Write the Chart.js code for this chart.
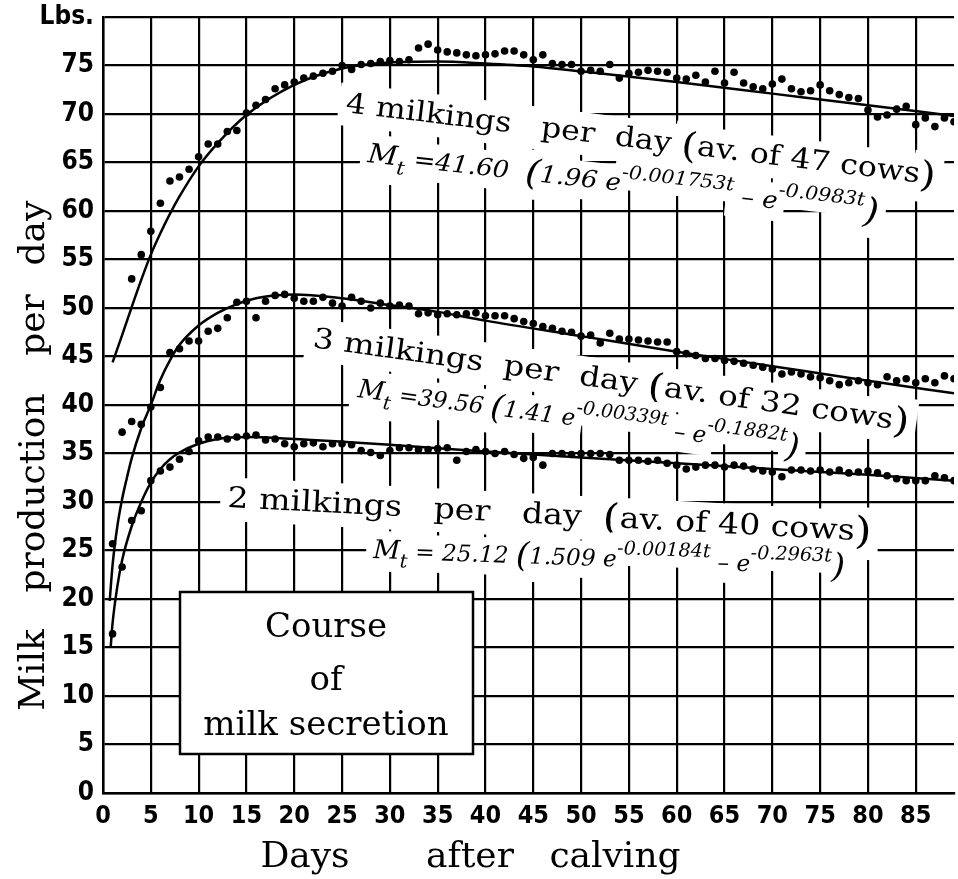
<!DOCTYPE html>
<html>
<head>
<meta charset="utf-8">
<script src="https://cdn.jsdelivr.net/npm/chart.js@4.4.0/dist/chart.umd.min.js"></script>
<style>
  html, body { margin: 0; padding: 0; background: #fff; }
  canvas { display: block; }
</style>
</head>
<body>
<canvas id="chart" width="958" height="879"></canvas>
<script>
// days after calving (one dot per day)
const days = Array.from({ length: 89 }, (_, i) => i + 1);

// daily averages, lbs per day
const milk4 = [null, null, 53.0, 55.5, 57.9, 60.8, 63.1, 63.5, 64.3, 65.6,
  66.9, 66.9, 68.2, 68.3, 70.1, 70.9, 71.5, 72.6, 73.0, 73.3,
  73.7, 73.9, 74.2, 74.4, 75.0, 74.6, 75.1, 75.2, 75.4, 75.5,
  75.4, 75.6, 76.8, 77.2, 76.6, 76.4, 76.3, 76.1, 76.0, 76.1,
  76.2, 76.5, 76.5, 76.1, 75.6, 76.1, 75.2, 75.1, 75.1, 74.4,
  74.5, 74.4, 75.1, 73.7, 74.2, 74.3, 74.5, 74.4, 74.3, 73.7,
  73.6, 74.0, 73.3, 74.4, 73.2, 74.3, 73.2, 72.8, 72.6, 73.1,
  73.6, 72.6, 72.3, 72.4, 73.0, 72.4, 72.0, 71.7, 71.6, 70.4,
  69.7, 69.9, 70.5, 70.8, 68.9, 69.6, 68.7, 69.6, 69.2];

const milk3 = [25.7, 37.2, 38.3, 38.0, 39.8, 41.8, 45.4, 45.8, 46.6, 46.6,
  47.6, 47.9, 49.0, 50.6, 50.7, 49.0, 50.7, 51.3, 51.4, 51.0,
  50.7, 50.7, 51.1, 50.5, 50.2, 51.1, 50.7, 50.0, 50.5, 50.2,
  50.3, 50.2, 49.4, 49.5, 49.3, 49.4, 49.3, 49.4, 49.5, 49.2,
  49.2, 49.2, 48.9, 48.6, 48.4, 48.1, 47.9, 47.6, 47.5, 47.1,
  47.2, 46.4, 47.4, 46.8, 46.8, 46.7, 46.6, 46.5, 46.5, 45.5,
  45.3, 45.1, 44.8, 44.8, 44.6, 44.5, 44.3, 44.1, 43.9, 43.7,
  43.2, 43.4, 43.2, 42.9, 42.8, 42.5, 42.1, 42.3, 42.5, 42.3,
  42.1, 42.9, 42.5, 42.7, 42.3, 42.7, 42.3, 43.0, 42.7];

const milk2 = [16.4, 23.3, 28.1, 29.1, 32.2, 33.2, 33.6, 34.4, 35.2, 36.3,
  36.7, 36.7, 36.5, 36.7, 36.8, 36.9, 36.4, 36.5, 36.0, 35.7,
  36.0, 36.1, 35.7, 36.0, 36.0, 35.9, 35.3, 35.1, 34.8, 35.3,
  35.6, 35.6, 35.4, 35.4, 35.5, 35.6, 34.3, 35.2, 35.4, 35.2,
  35.0, 35.2, 34.9, 34.5, 34.6, 33.8, 35.0, 35.0, 34.9, 35.0,
  35.0, 35.0, 34.9, 34.3, 34.3, 34.3, 34.2, 34.3, 34.0, 33.8,
  33.4, 33.6, 33.8, 33.8, 33.6, 33.8, 33.7, 33.4, 33.2, 33.1,
  32.6, 33.3, 33.3, 33.2, 33.3, 33.1, 33.3, 33.0, 33.1, 33.2,
  33.0, 32.7, 32.4, 32.2, 32.2, 32.2, 32.7, 32.5, 32.2];

// fitted curves
const fitDays4 = [1, 2, 3, 4, 5, 6, 7, 8, 10, 12, 15, 20, 25, 30, 35, 40, 45, 50, 60, 70, 80, 89];
const fit4 = [44.4, 47.2, 50.1, 52.9, 55.5, 57.7, 59.7, 61.5, 64.6, 67.0, 69.9, 73.0, 74.7, 75.3, 75.4, 75.2, 74.9, 74.4, 73.3, 72.1, 70.9, 69.8];

const fitDays3 = [0.7, 1, 1.5, 2, 2.5, 3, 4, 5, 6, 7, 8, 10, 12, 14, 16, 18, 20, 25, 30, 35, 40, 50, 60, 70, 80, 89];
const fit3 = [19.8, 23.5, 27.5, 30.3, 32.5, 34.5, 37.6, 40.0, 42.6, 44.6, 46.2, 48.2, 49.5, 50.4, 51.0, 51.3, 51.4, 51.0, 50.3, 49.6, 48.7, 47.1, 45.5, 44.0, 42.5, 41.2];

const fitDays2 = [0.8, 1, 1.5, 2, 3, 4, 5, 6, 7, 8, 10, 12, 15, 20, 25, 30, 40, 50, 60, 70, 80, 89];
const fit2 = [15.0, 17.5, 21.3, 24.0, 27.5, 30.0, 32.0, 33.4, 34.4, 35.1, 36.0, 36.5, 36.7, 36.5, 36.2, 35.9, 35.2, 34.6, 34.0, 33.4, 32.8, 32.2];

const yTicksTop = 80;   // top of the y axis, labelled "Lbs."

function pts(xs, ys) {
  return xs.map((x, i) => ({ x: x, y: ys[i] })).filter(p => p.y !== null);
}

// labels drawn on the chart, each line slightly tilted as in the original
const notes = [
  { x: 345, y: 112, angle: 7, size: 28, width: 594, italic: false,
    parts: [['4 milkings   per  day ', 'n'], ['(', 'big'], ['av. of 47 cows', 'n'], [')', 'big']] },
  { x: 367, y: 162, angle: 6.5, size: 27, width: 514, italic: true,
    parts: [['M', 'n'], ['t', 'sub'], [' =41.60  ', 'sm'], ['(', 'big'], ['1.96 e', 'sm'],
            ['-0.001753t', 'sup'], [' \u2013 e', 'sm'], ['-0.0983t', 'sup'], [')', 'big']] },
  { x: 312, y: 347, angle: 8, size: 28, width: 602, italic: false,
    parts: [['3 milkings  per  day ', 'n'], ['(', 'big'], ['av. of 32 cows', 'n'], [')', 'big']] },
  { x: 357, y: 397, angle: 7.5, size: 26, width: 445, italic: true,
    parts: [['M', 'n'], ['t', 'sub'], [' =39.56 ', 'sm'], ['(', 'big'], ['1.41 e', 'sm'],
            ['-0.00339t', 'sup'], [' \u2013 e', 'sm'], ['-0.1882t', 'sup'], [')', 'big']] },
  { x: 227, y: 507, angle: 3, size: 29, width: 645, italic: false,
    parts: [['2 milkings   per   day  ', 'n'], ['(', 'big'], ['av. of 40 cows', 'n'], [')', 'big']] },
  { x: 373, y: 558, angle: 2, size: 26, width: 472, italic: true,
    parts: [['M', 'n'], ['t', 'sub'], [' = 25.12 ', 'sm'], ['(', 'big'], ['1.509 e', 'sm'],
            ['-0.00184t', 'sup'], [' \u2013 e', 'sm'], ['-0.2963t', 'sup'], [')', 'big']] }
];

const KINDS = {
  n:   { s: 1.0,  dy: 0 },
  sm:  { s: 0.88, dy: 0 },
  sub: { s: 0.72, dy: 0.32 },
  sup: { s: 0.72, dy: -0.48 },
  big: { s: 1.3,  dy: 0.12 }
};

function drawNote(ctx, note) {
  const style = note.italic ? 'italic ' : '';
  const fontFor = kind => style + Math.round(note.size * KINDS[kind].s) + 'px "DejaVu Serif"';
  let total = 0;
  const parts = note.parts.map(([text, kind]) => {
    ctx.font = fontFor(kind);
    const w = ctx.measureText(text).width;
    const p = { text: text, kind: kind, x: total, w: w };
    total += w;
    return p;
  });
  const k = note.width / total;
  const pad = 7;
  ctx.save();
  ctx.translate(note.x, note.y);
  ctx.rotate(note.angle * Math.PI / 180);
  ctx.scale(k, 1);
  // white patch hides the grid behind the words
  ctx.fillStyle = '#fff';
  parts.forEach(p => {
    const s = note.size * KINDS[p.kind].s;
    const dy = note.size * KINDS[p.kind].dy;
    const top = dy - 0.78 * s - pad;
    const bottom = dy + 0.24 * s + pad;
    ctx.fillRect(p.x - pad / k, top, p.w + 2 * pad / k, bottom - top);
  });
  ctx.fillStyle = '#000';
  ctx.textAlign = 'left';
  ctx.textBaseline = 'alphabetic';
  parts.forEach(p => {
    ctx.font = fontFor(p.kind);
    ctx.fillText(p.text, p.x, note.size * KINDS[p.kind].dy);
  });
  ctx.restore();
}

function drawBox(ctx) {
  ctx.save();
  ctx.fillStyle = '#fff';
  ctx.strokeStyle = '#000';
  ctx.lineWidth = 2.5;
  ctx.fillRect(180, 592, 293, 162);
  ctx.strokeRect(180, 592, 293, 162);
  ctx.fillStyle = '#000';
  ctx.font = '34px "DejaVu Serif"';
  ctx.textAlign = 'center';
  ctx.textBaseline = 'alphabetic';
  ctx.fillText('Course', 326, 637);
  ctx.fillText('of', 326, 690);
  ctx.fillText('milk secretion', 326, 735);
  ctx.restore();
}

function drawTitles(ctx) {
  ctx.save();
  ctx.fillStyle = '#000';
  ctx.font = '36px "DejaVu Serif"';
  ctx.textAlign = 'center';
  ctx.textBaseline = 'alphabetic';
  [['day', 233], ['per', 325], ['production', 493], ['Milk', 670]].forEach(([w, cy]) => {
    ctx.save();
    ctx.translate(44, cy);
    ctx.rotate(-Math.PI / 2);
    ctx.fillText(w, 0, 0);
    ctx.restore();
  });
  [['Days', 305], ['after', 470], ['calving', 615]].forEach(([w, cx]) => {
    ctx.fillText(w, cx, 867);
  });
  ctx.restore();
}

const annotate = {
  id: 'annotate',
  beforeDatasetsDraw(chart) {
    const ctx = chart.ctx;
    notes.forEach(n => drawNote(ctx, n));
    drawBox(ctx);
  },
  afterDraw(chart) {
    drawTitles(chart.ctx);
  }
};

const fontFamily = "'DejaVu Sans Condensed', 'DejaVu Sans', sans-serif";

function curve(data) {
  return { data: data, showLine: true, borderColor: '#000', borderWidth: 2.5,
           pointRadius: 0, cubicInterpolationMode: 'monotone', fill: false };
}
function dots(data) {
  return { data: data, showLine: false, pointRadius: 3.8, pointBackgroundColor: '#000',
           pointBorderWidth: 0, borderColor: '#000' };
}

new Chart(document.getElementById('chart'), {
  type: 'scatter',
  data: {
    datasets: [
      curve(pts(fitDays4, fit4)),
      curve(pts(fitDays3, fit3)),
      curve(pts(fitDays2, fit2)),
      dots(pts(days, milk4)),
      dots(pts(days, milk3)),
      dots(pts(days, milk2))
    ]
  },
  options: {
    responsive: false,
    animation: false,
    events: [],
    layout: { padding: { top: 17, left: 0, right: 0, bottom: 0 } },
    plugins: { legend: { display: false }, tooltip: { enabled: false } },
    scales: {
      x: {
        type: 'linear', min: 0, max: 89,
        grid: { color: '#000', lineWidth: 2.2, drawTicks: false },
        border: { color: '#000', width: 2.5 },
        ticks: { stepSize: 5, includeBounds: false, color: '#000', padding: 8, maxRotation: 0,
                 font: { family: fontFamily, size: 25, weight: 'bold' } },
        afterFit(scale) { scale.height = 86; scale.paddingLeft = 0; scale.paddingRight = 0; }
      },
      y: {
        type: 'linear', min: 0, max: yTicksTop,
        grid: { color: '#000', lineWidth: 2.2, drawTicks: false },
        border: { color: '#000', width: 2.5 },
        ticks: { stepSize: 5, color: '#000', padding: 9,
                 font: { family: fontFamily, size: 26, weight: 'bold' },
                 callback: v => (v === yTicksTop ? 'Lbs.' : v) },
        afterFit(scale) { scale.width = 103; scale.paddingTop = 0; scale.paddingBottom = 0; }
      }
    }
  },
  plugins: [annotate]
});
</script>
</body>
</html>
